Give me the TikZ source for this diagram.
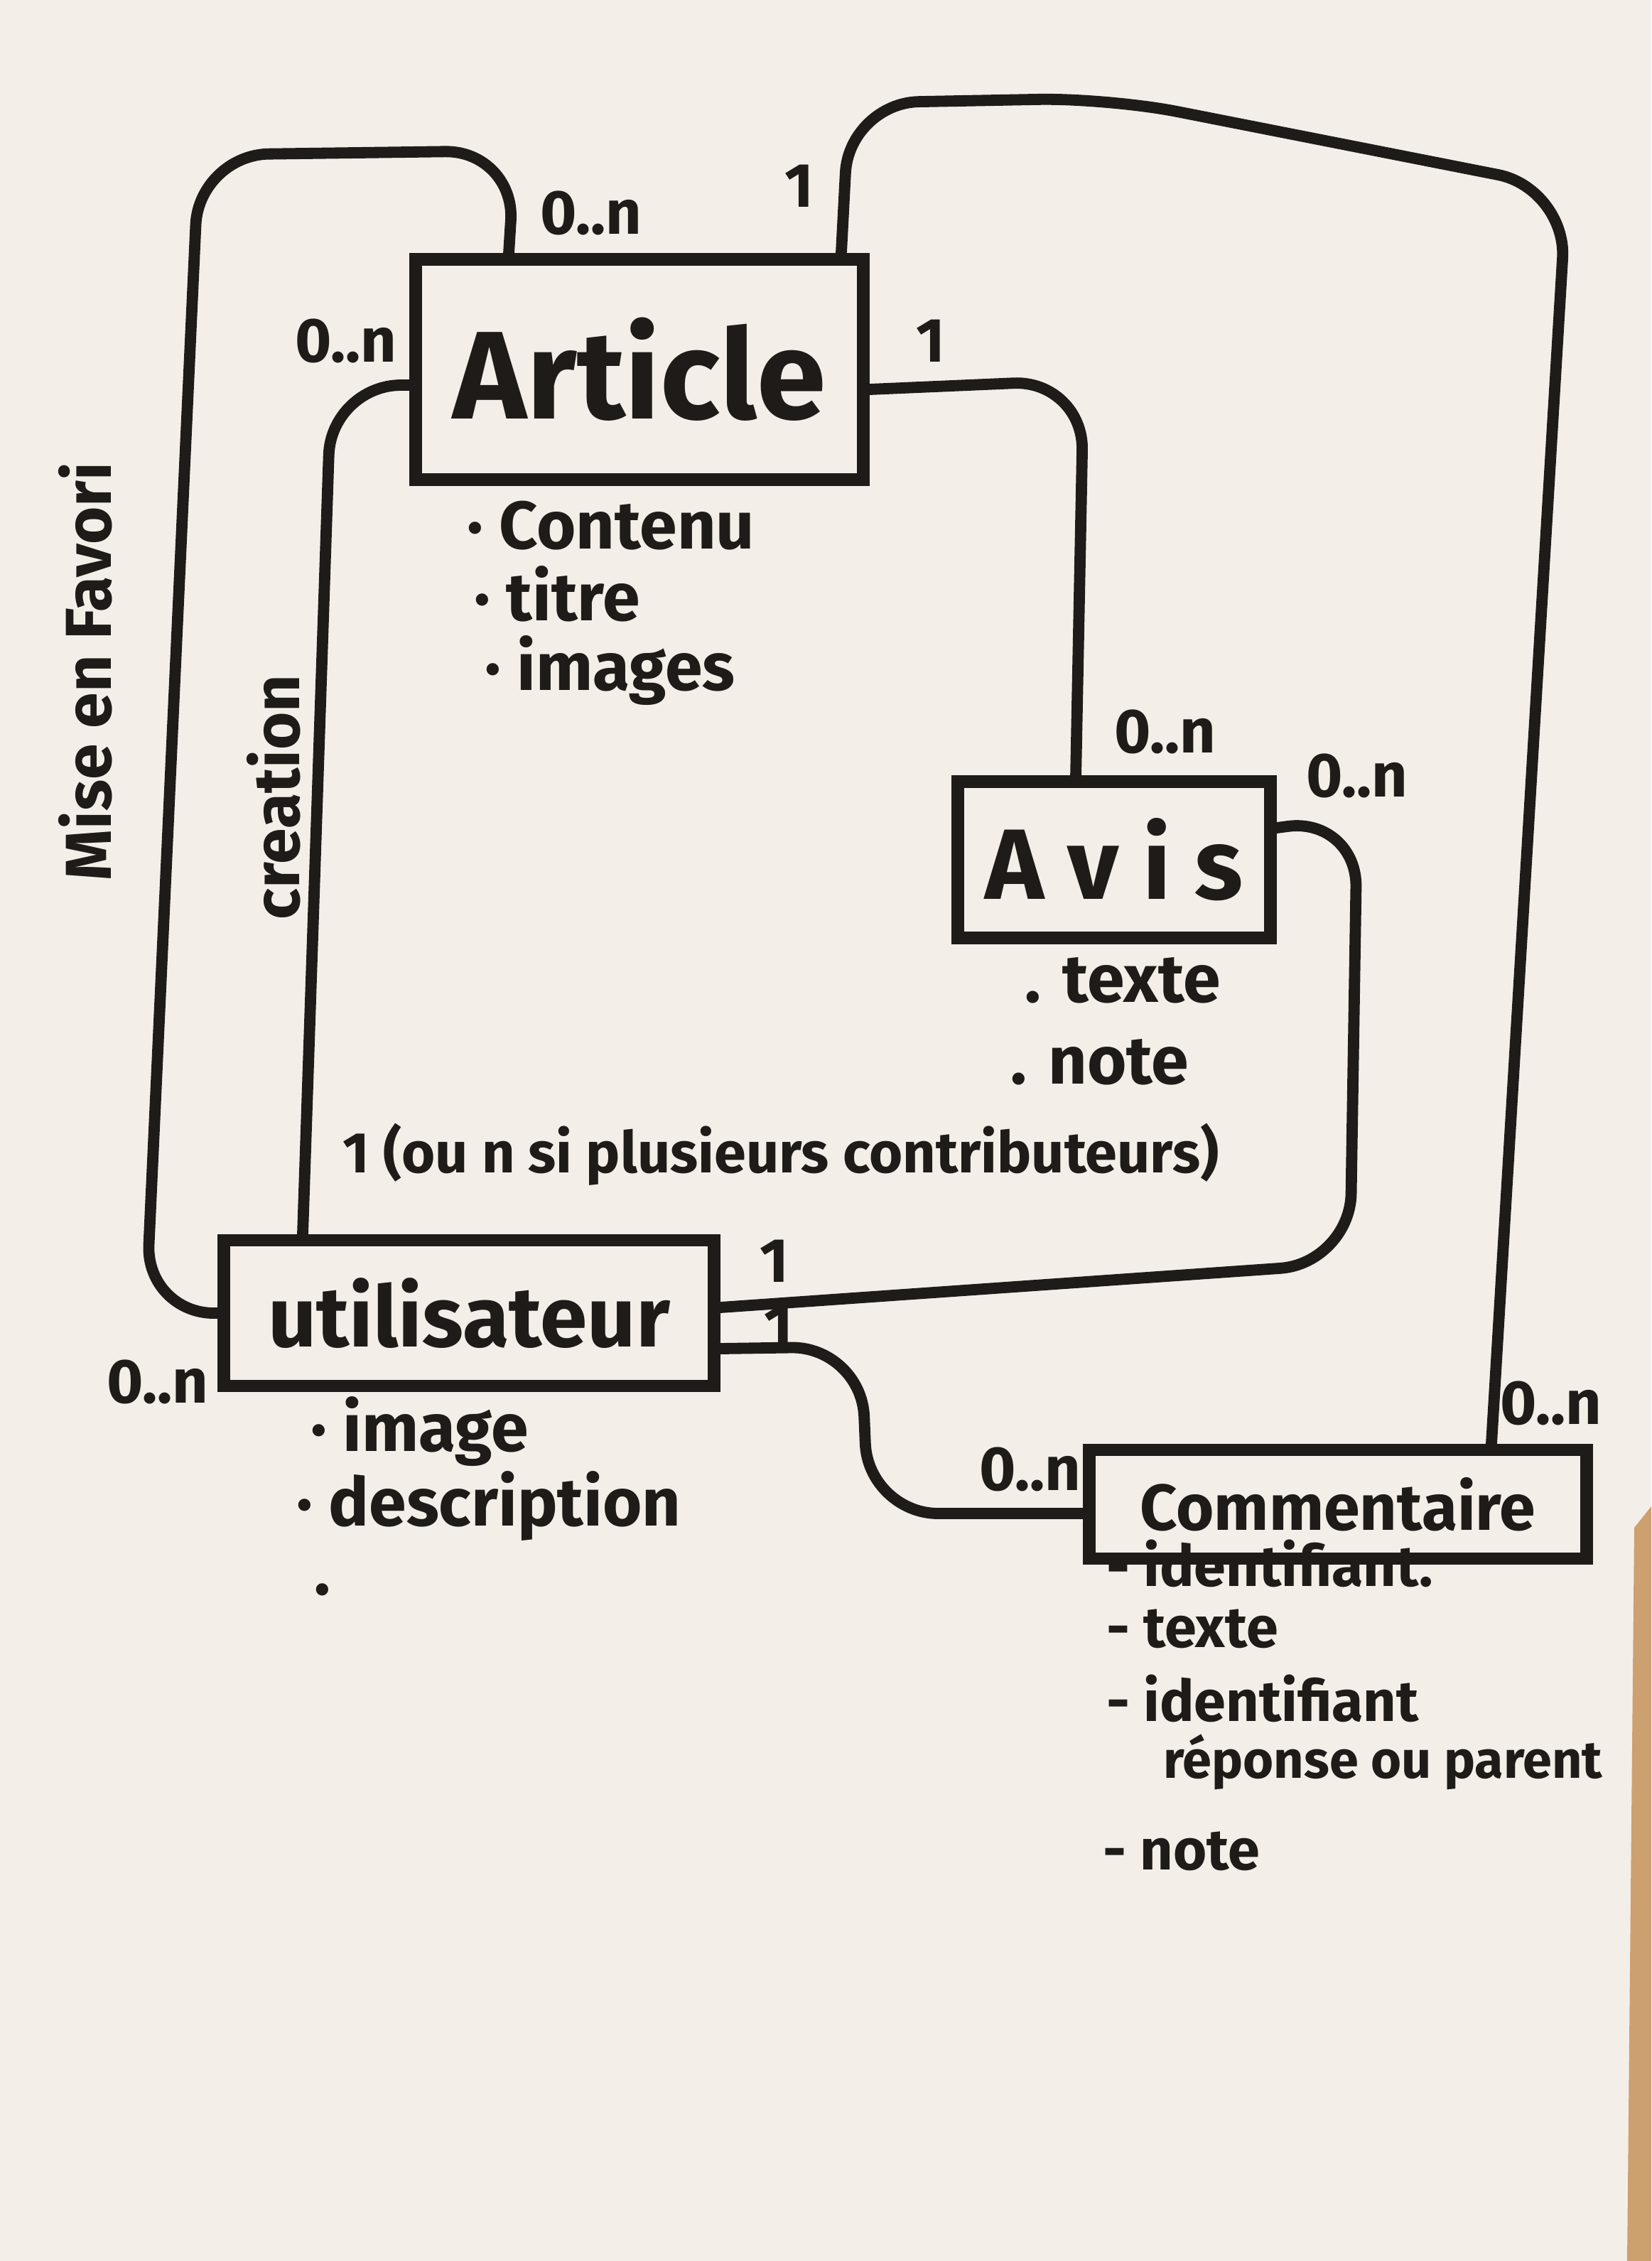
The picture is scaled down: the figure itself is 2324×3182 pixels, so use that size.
\documentclass[tikz,border=0pt]{standalone}
\usepackage{fontspec}
\setmainfont{Fira Sans}
\usetikzlibrary{calc}
\definecolor{ink}{RGB}{30,27,25}
\definecolor{paper}{RGB}{244,238,233}
\definecolor{tablewood}{RGB}{205,160,112}
\tikzset{
  classbox/.style={draw=ink, line width=5pt, inner sep=0pt, text=ink},
  link/.style={draw=ink, line width=4.5pt, rounded corners=28pt, line cap=round},
  mult/.style={font=\bfseries\fontsize{25}{27}\selectfont, text=ink},
  attr/.style={font=\bfseries\fontsize{27}{30}\selectfont, text=ink, anchor=west},
  comattr/.style={attr, font=\bfseries\fontsize{23}{25}\selectfont},
}

\begin{document}
\begin{tikzpicture}[x=0.01cm, y=-0.01cm]
  % Paper sheet
  \fill[paper] (0,0) rectangle (2324,3182);
  \useasboundingbox (0,0) rectangle (2324,3182);
  \fill[tablewood] (2300,2150) -- (2324,2120) -- (2324,3182) -- (2290,3182) -- cycle;

  % Classes
  \node[classbox, minimum width=6.3cm, minimum height=3.1cm, font=\bfseries\fontsize{50}{54}\selectfont] (article) at (900,520) {Article};
  \node[classbox, minimum width=4.4cm, minimum height=2.2cm, font=\bfseries\fontsize{40}{44}\selectfont] (avis) at (1568,1210) {A v i s};
  \node[classbox, minimum width=6.9cm, minimum height=2.05cm, font=\bfseries\fontsize{34}{38}\selectfont] (utilisateur) at (660,1848) {utilisateur};
  \node[classbox, minimum width=7cm, minimum height=1.53cm, font=\bfseries\fontsize{26}{30}\selectfont] (commentaire) at (1883,2117) {Commentaire};

  % Attributes
  \node[attr] (artContenu) at (645,740) {· Contenu};
  \node[attr] (artTitre) at (655,836) {· titre};
  \node[attr] (artImages) at (670,944) {· images};

  \node[attr] (avisTexte) at (1430,1380) {. texte};
  \node[attr] (avisNote) at (1410,1495) {. note};

  \node[attr] (userImage) at (425,2015) {· image};
  \node[attr] (userDescr) at (405,2120) {· description};
  \node[attr] (userVide) at (430,2248) {·};

  \node[comattr] (comId) at (1545,2200) {- identifiant.};
  \node[comattr] (comTexte) at (1545,2292) {- texte};
  \node[comattr] (comParent) at (1545,2390) {- identifiant};
  \node[comattr, font=\bfseries\fontsize{21}{23}\selectfont] (comParentB) at (1625,2480) {réponse ou parent};
  \node[comattr] (comNote) at (1540,2605) {- note};

  % Mise en Favori
  \draw[link] ($(article.north west)+(140,0)$) -- (725,212) -- (280,218) -- (205,1850) -- (utilisateur.west);
  \node[mult, font=\bfseries\fontsize{26}{28}\selectfont, rotate=90] (favLabel) at (120,945) {Mise en Favori};
  \node[mult] (favArt) at (832,300) {0..n};
  \node[mult] (favUser) at (222,1945) {0..n};

  % creation
  \draw[link] ($(article.west)+(0,22)$) -- (466,542) -- ($(utilisateur.north west)+(120,0)$);
  \node[mult, font=\bfseries\fontsize{26}{28}\selectfont, rotate=90] (creaLabel) at (385,1122) {creation};
  \node[mult] (creaArt) at (487,480) {0..n};
  \node[mult, anchor=west, font=\bfseries\fontsize{23}{25}\selectfont] (creaUser) at (470,1625) {1 (ou n si plusieurs contributeurs)};

  % Article - Avis
  \draw[link] ($(article.east)+(0,28)$) -- (1525,535) -- ($(avis.north west)+(175,0)$);
  \node[mult] (avArt) at (1310,480) {1};
  \node[mult] (avAvis) at (1640,1030) {0..n};

  % Avis - utilisateur
  \draw[link] ($(avis.east)+(0,-45)$) -- (1910,1150) -- (1900,1778) -- ($(utilisateur.east)+(0,-8)$);
  \node[mult] (auAvis) at (1910,1092) {0..n};
  \node[mult] (auUser) at (1090,1775) {1};

  % utilisateur - Commentaire
  \draw[link] ($(utilisateur.east)+(0,50)$) -- (1212,1895) -- (1222,2130) -- ($(commentaire.west)+(0,13)$);
  \node[mult] (ucUser) at (1096,1868) {1};
  \node[mult] (ucCom) at (1450,2068) {0..n};

  % Article - Commentaire
  \draw[link] ($(article.north east)+(-40,0)$) -- (1195,145) -- (1560,138) -- (2205,265) -- ($(commentaire.north east)+(-143,0)$);
  \node[mult] (acArt) at (1125,262) {1};
  \node[mult] (acCom) at (2183,1975) {0..n};
\end{tikzpicture}
\end{document}
